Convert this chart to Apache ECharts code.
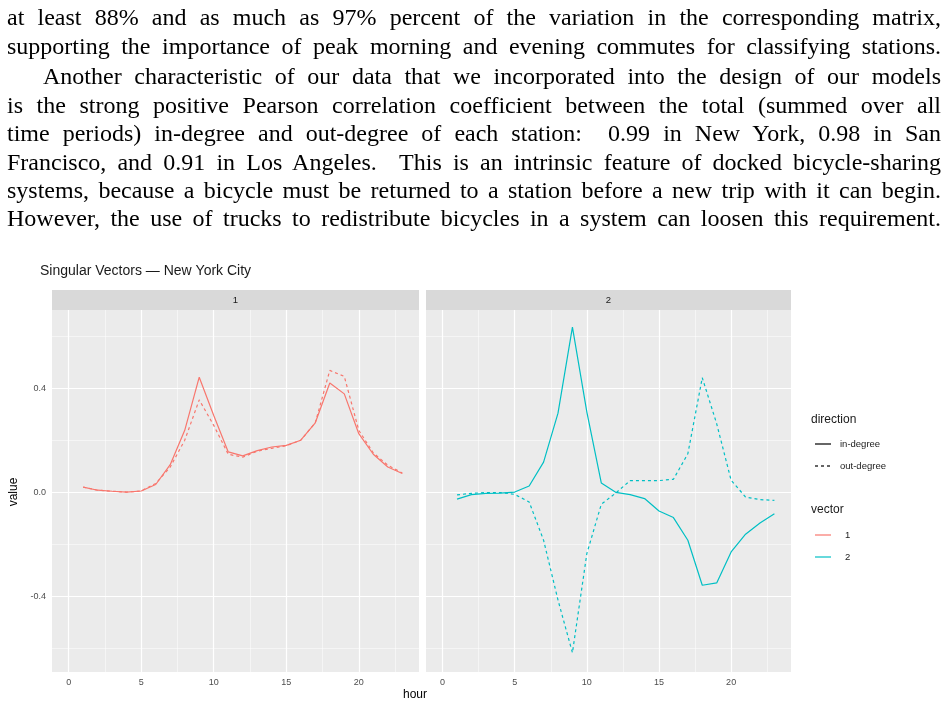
<!DOCTYPE html>
<html><head><meta charset="utf-8">
<script src="https://cdn.jsdelivr.net/npm/echarts@6/dist/echarts.min.js"></script>
<style>
html,body{margin:0;padding:0;background:#fff;width:948px;height:708px;overflow:hidden}
#chart{position:absolute;left:0;top:0;width:948px;height:708px}
.ln{position:absolute;left:7px;width:934px;font-family:"Liberation Serif",serif;font-size:24px;line-height:28px;white-space:nowrap;text-align:justify;text-align-last:justify;color:#000}
</style></head><body>
<div id="chart"></div>
<div class="ln" style="top:3px">at least 88% and as much as 97% percent of the variation in the corresponding matrix,</div>
<div class="ln" style="top:32px">supporting the importance of peak morning and evening commutes for classifying stations.</div>
<div class="ln" style="top:62px;left:43px;width:898px">Another characteristic of our data that we incorporated into the design of our models</div>
<div class="ln" style="top:91px">is the strong positive Pearson correlation coefficient between the total (summed over all</div>
<div class="ln" style="top:119px">time periods) in-degree and out-degree of each station: &nbsp;0.99 in New York, 0.98 in San</div>
<div class="ln" style="top:148px">Francisco, and 0.91 in Los Angeles. &nbsp;This is an intrinsic feature of docked bicycle-sharing</div>
<div class="ln" style="top:176px">systems, because a bicycle must be returned to a station before a new trip with it can begin.</div>
<div class="ln" style="top:204px">However, the use of trucks to redistribute bicycles in a system can loosen this requirement.</div>
<script>
const hours = [1,2,3,4,5,6,7,8,9,10,11,12,13,14,15,16,17,18,19,20,21,22,23];
const v1In  = [0.02,0.008,0.004,0.001,0.005,0.03,0.106,0.238,0.442,0.295,0.155,0.14,0.16,0.174,0.18,0.2,0.267,0.42,0.378,0.225,0.146,0.097,0.072];
const v1Out = [0.02,0.008,0.004,0.001,0.005,0.034,0.097,0.2,0.355,0.257,0.146,0.135,0.158,0.169,0.179,0.2,0.267,0.468,0.445,0.238,0.151,0.104,0.074];
const v2In  = [-0.026,-0.009,-0.004,-0.003,0.001,0.024,0.116,0.304,0.634,0.308,0.036,0,-0.009,-0.024,-0.072,-0.097,-0.184,-0.357,-0.348,-0.229,-0.161,-0.118,-0.082];
const v2Out = [-0.01,-0.004,-0.001,-0.001,-0.008,-0.037,-0.184,-0.414,-0.616,-0.235,-0.046,-0.003,0.045,0.045,0.045,0.05,0.148,0.44,0.263,0.046,-0.018,-0.028,-0.031];
const xTicks = [0,5,10,15,20];
const xMinor = [2.5,7.5,12.5,17.5,22.5];
const yTicks = [-0.4,0,0.4];
const yMinor = [-0.6,-0.2,0.2,0.6];
const RED = '#F8766D', TEAL = '#00BFC4';

const panels = [{left:52,width:367,label:'1'},{left:426,width:365,label:'2'}];
const grids = panels.map(p=>({left:p.left,width:p.width,top:310,height:362,backgroundColor:'#EBEBEB',show:true,borderWidth:0}));
const xAxes = panels.map((p,i)=>({gridIndex:i,type:'value',min:-1.15,max:24.15,
  splitLine:{show:false},axisLine:{show:false},
  axisTick:{show:true,customValues:xTicks,length:3,lineStyle:{color:'#333'}},
  axisLabel:{customValues:xTicks,color:'#4d4d4d',fontSize:9,fontFamily:'Liberation Sans',margin:6}}));
const yAxes = panels.map((p,i)=>({gridIndex:i,type:'value',min:-0.69,max:0.70,
  splitLine:{show:false},axisLine:{show:false},
  axisTick:{show:i===0,customValues:yTicks,length:3,lineStyle:{color:'#333'}},
  axisLabel:{show:i===0,customValues:yTicks,color:'#4d4d4d',fontSize:9,fontFamily:'Liberation Sans',margin:6,
    formatter:v=>v.toFixed(1)}}));
function gridSeries(i){
  const ml = [];
  yTicks.forEach(v=>ml.push({yAxis:v,lineStyle:{width:1.2}}));
  yMinor.forEach(v=>ml.push({yAxis:v,lineStyle:{width:0.5}}));
  xTicks.forEach(v=>ml.push({xAxis:v,lineStyle:{width:1.2}}));
  xMinor.forEach(v=>ml.push({xAxis:v,lineStyle:{width:0.5}}));
  return {type:'line',xAxisIndex:i,yAxisIndex:i,data:[],silent:true,z:1,
    markLine:{silent:true,symbol:'none',label:{show:false},animation:false,
      lineStyle:{color:'#fff',type:'solid'},data:ml}};
}
function line(i,ys,color,dashed){
  return {type:'line',xAxisIndex:i,yAxisIndex:i,data:hours.map((h,k)=>[h,ys[k]]),
    showSymbol:false,symbol:'none',z:5,animation:false,
    lineStyle:{color,width:1.2,type:dashed?[3,3]:'solid'}};
}
const legendG = [];
const lt = (x,y,t,size)=>({type:'text',left:x,top:y,style:{text:t,fontSize:size,fontFamily:'Liberation Sans',fill:'#1a1a1a'}});
legendG.push(lt(811,414,'direction',12));
legendG.push({type:'line',shape:{x1:815,y1:444,x2:831,y2:444},style:{stroke:'#000',lineWidth:1.2}});
legendG.push({type:'line',shape:{x1:815,y1:466,x2:831,y2:466},style:{stroke:'#000',lineWidth:1.2,lineDash:[3,3]}});
legendG.push(lt(840,439,'in-degree',9.5));
legendG.push(lt(840,461,'out-degree',9.5));
legendG.push(lt(811,504,'vector',12));
legendG.push({type:'line',shape:{x1:815,y1:535,x2:831,y2:535},style:{stroke:RED,lineWidth:1.2}});
legendG.push({type:'line',shape:{x1:815,y1:557,x2:831,y2:557},style:{stroke:TEAL,lineWidth:1.2}});
legendG.push(lt(845,530,'1',9.5));
legendG.push(lt(845,552,'2',9.5));
panels.forEach(p=>{
  legendG.push({type:'rect',shape:{x:p.left,y:290,width:p.width,height:20},style:{fill:'#D9D9D9'}});
  legendG.push({type:'text',x:p.left+p.width/2,y:300,style:{text:p.label,fontSize:9.5,fontFamily:'Liberation Sans',fill:'#1a1a1a',align:'center',verticalAlign:'middle'}});
});
legendG.push(lt(40,264,'Singular Vectors \u2014 New York City',14));
legendG.push({type:'text',x:415,y:695,style:{text:'hour',fontSize:12,fontFamily:'Liberation Sans',fill:'#000',align:'center',verticalAlign:'middle'}});
legendG.push({type:'text',x:14,y:492,rotation:Math.PI/2,style:{text:'value',fontSize:12,fontFamily:'Liberation Sans',fill:'#000',align:'center',verticalAlign:'middle'}});

const chart = echarts.init(document.getElementById('chart'));
chart.setOption({
  animation:false,backgroundColor:'transparent',
  grid:grids,xAxis:xAxes,yAxis:yAxes,
  series:[gridSeries(0),gridSeries(1),
    line(0,v1In,RED,false),line(0,v1Out,RED,true),
    line(1,v2In,TEAL,false),line(1,v2Out,TEAL,true)],
  graphic:legendG
});
</script>
</body></html>
